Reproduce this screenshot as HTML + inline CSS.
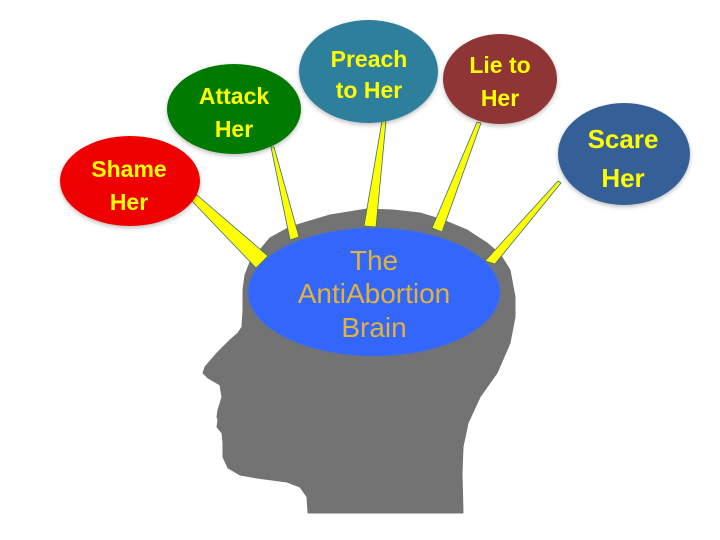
<!DOCTYPE html>
<html>
<head>
<meta charset="utf-8">
<style>
  html,body{margin:0;padding:0;background:#fff;}
  svg{display:block;}
  .b{font-family:"Liberation Sans",Arial,sans-serif;font-weight:bold;fill:#ffff00;text-anchor:middle;}
  .c{font-family:"Liberation Sans",Arial,sans-serif;fill:#e2b23e;text-anchor:middle;font-size:28px;}
</style>
</head>
<body>
<svg width="720" height="540" viewBox="0 0 720 540" xmlns="http://www.w3.org/2000/svg">
  <defs>
    <filter id="sh" x="-20%" y="-20%" width="140%" height="150%">
      <feDropShadow dx="0" dy="2" stdDeviation="2" flood-color="#000" flood-opacity="0.25"/>
    </filter>
  </defs>
  <rect width="720" height="540" fill="#fff"/>

  <!-- head silhouette -->
  <polygon fill="#737373" stroke="#737373" stroke-width="1" stroke-linejoin="round" points="
    308,513 463,513 462,473 463,447 468,423 480,397 497,373 510,343 515,317 515,297 510,270 500,254 487,243 467,230 443,220 420,213 393,210 367,209
    330,215 290,227 270,238 260,250 250,262 245,275 243,290 243,310 242,327 238,333 230,340 217,353 205,367 203,373 208,378 220,385 222,397 218,410 217,417 218,420 217,427 222,433 223,443 223,457 228,468 240,475 257,478 287,482 300,487 307,497"/>

  <!-- brain ellipse -->
  <ellipse cx="374" cy="292" rx="126" ry="64" fill="#3366fa" stroke="#4a6fd0" stroke-width="1"/>
  <text class="c" x="374" y="270">The</text>
  <text class="c" x="374" y="303">AntiAbortion</text>
  <text class="c" x="374" y="337">Brain</text>

  <!-- spikes -->
  <g fill="#ffff00" stroke="#3c6e7e" stroke-width="0.8" stroke-linejoin="round">
    <polygon points="190,199 197,195 268,256 256,268"/>
    <polygon points="271,147 274,147 299,237 290,240"/>
    <polygon points="382,121 386,121 376,227 364,226"/>
    <polygon points="477,122 481,123 442,232 432,228"/>
    <polygon points="558,181 561,183 495,264 485,261"/>
  </g>

  <!-- bubbles -->
  <g filter="url(#sh)">
    <ellipse cx="130" cy="181" rx="70" ry="45" fill="#ee0000"/>
    <ellipse cx="234" cy="109" rx="67" ry="45" fill="#007a00"/>
    <ellipse cx="368.5" cy="71.5" rx="69.5" ry="51.5" fill="#2f7f9c"/>
    <ellipse cx="500" cy="79" rx="57" ry="45" fill="#8f3535"/>
    <ellipse cx="624" cy="154" rx="66" ry="51" fill="#355f97"/>
  </g>

  <text class="b" x="129" y="177" font-size="23">Shame</text>
  <text class="b" x="129" y="210" font-size="23">Her</text>

  <text class="b" x="234" y="104" font-size="23">Attack</text>
  <text class="b" x="234" y="137" font-size="23">Her</text>

  <text class="b" x="369" y="67" font-size="23">Preach</text>
  <text class="b" x="369" y="98" font-size="23">to Her</text>

  <text class="b" x="500" y="73" font-size="23">Lie to</text>
  <text class="b" x="500" y="106" font-size="23">Her</text>

  <text class="b" x="623" y="148" font-size="26">Scare</text>
  <text class="b" x="623" y="187" font-size="26">Her</text>
</svg>
</body>
</html>
